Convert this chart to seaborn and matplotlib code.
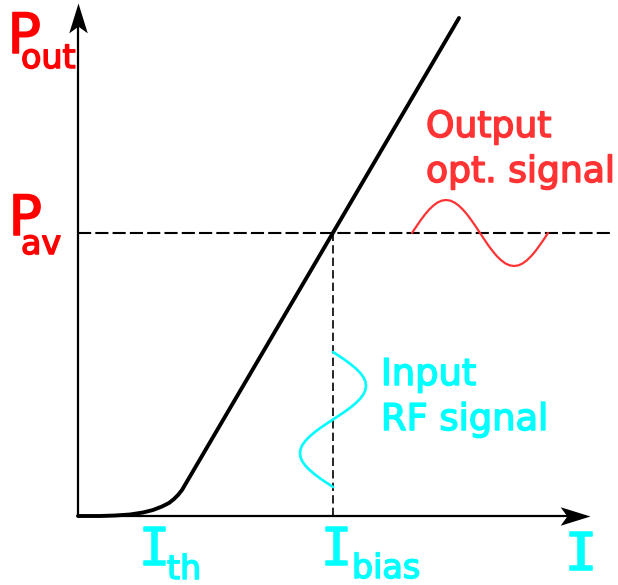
import numpy as np
import pandas as pd
import matplotlib
matplotlib.use("Agg")
import matplotlib.pyplot as plt
import matplotlib.patheffects as pe
from matplotlib.path import Path
import seaborn as sns

# ---- data (diagram units: current I to the right, optical power P upward) ----
pi_current = [0, 22, 37, 52, 65, 75, 84, 91, 96, 100, 104, 381]
pi_power = [0, 0, 0.5, 1.5, 3.5, 6, 9.5, 13, 17, 21, 26, 498]

i_bias = 255
p_av = 283
i_max = 512
p_max = 513
dash_end = 534

rf_current = [255, 261.4, 267.6, 273.3, 278.3, 282.4, 285.5, 287.4, 288, 287.4, 285.5, 282.4,
              278.3, 273.3, 267.6, 261.4, 255, 248.6, 242.4, 236.7, 231.7, 227.6, 224.5, 222.6,
              222, 222.6, 224.5, 227.6, 231.7, 236.7, 242.4, 248.6, 255]
rf_power = [164, 159.8, 155.6, 151.3, 147.1, 142.9, 138.7, 134.5, 130.3, 126, 121.8, 117.6,
            113.4, 109.1, 104.9, 100.7, 96.5, 92.3, 88.1, 83.8, 79.6, 75.4, 71.2, 67, 62.8,
            58.5, 54.3, 50.1, 45.9, 41.7, 37.4, 33.2, 29]

opt_current = [334, 338.3, 342.5, 346.8, 351, 355.3, 359.5, 363.8, 368, 372.3, 376.5, 380.8,
               385, 389.3, 393.5, 397.8, 402, 406.3, 410.5, 414.8, 419, 423.3, 427.5, 431.8,
               436, 440.3, 444.5, 448.8, 453, 457.3, 461.5, 465.8, 470]
opt_power = [283, 289.4, 295.6, 301.3, 306.3, 310.4, 313.5, 315.4, 316, 315.4, 313.5, 310.4,
             306.3, 301.3, 295.6, 289.4, 283, 276.6, 270.4, 264.7, 259.7, 255.6, 252.5, 250.6,
             250, 250.6, 252.5, 255.6, 259.7, 264.7, 270.4, 276.6, 283]

RED = "#ff0000"
RED2 = "#ff3333"
CYAN = "#00ffff"

sns.set_style("white")
plt.rcParams["font.family"] = ["DejaVu Sans"]

fig = plt.figure(figsize=(6.18, 5.85), dpi=100)
ax = fig.add_axes([0, 0, 1, 1])
ax.set_xlim(-78, 540)
ax.set_ylim(-69, 516)
ax.axis("off")

# axes
sns.lineplot(x=[0, 0], y=[0, p_max - 20], ax=ax, color="black", lw=1.6, sort=False, estimator=None)
sns.lineplot(x=[0, i_max - 20], y=[0, 0], ax=ax, color="black", lw=1.6, sort=False, estimator=None)
up = Path([(0, 0), (0.62, -2), (0, -1.55), (-0.62, -2), (0, 0)],
          [Path.MOVETO, Path.LINETO, Path.LINETO, Path.LINETO, Path.CLOSEPOLY])
right = Path([(0, 0), (-2, 0.62), (-1.55, 0), (-2, -0.62), (0, 0)],
             [Path.MOVETO, Path.LINETO, Path.LINETO, Path.LINETO, Path.CLOSEPOLY])
ax.plot([0], [p_max], marker=up, markersize=43, color="black", mew=0)
ax.plot([i_max], [0], marker=right, markersize=43, color="black", mew=0)

# dashed guides
ax.plot([0, dash_end], [p_av, p_av], color="black", lw=1.5, dashes=(6.3, 2.0))
ax.plot([i_bias, i_bias], [0, p_av], color="black", lw=1.2, dashes=(5.0, 2.5))

# P-I curve
df = pd.DataFrame({"I": pi_current, "P": pi_power})
sns.lineplot(data=df, x="I", y="P", ax=ax, color="black", lw=2.8, sort=False,
             estimator=None)
for ln in ax.lines[-1:]:
    ln.set_solid_joinstyle("round")
    ln.set_solid_capstyle("round")

# signals
sns.lineplot(x=rf_current, y=rf_power, ax=ax, color=CYAN, lw=1.9, sort=False, estimator=None)
sns.lineplot(x=opt_current, y=opt_power, ax=ax, color=RED2, lw=1.6, sort=False, estimator=None)
for ln in ax.lines[-2:]:
    ln.set_solid_joinstyle("round")


def label(x, y, s, color, size, family=None):
    kw = dict(color=color, fontsize=size, va="baseline", ha="left",
              path_effects=[pe.withStroke(linewidth=1.1, foreground=color)])
    if family:
        kw["family"] = family
        kw["ha"] = "center"
    ax.text(x, y, s, **kw)


label(-70.5, 463, "P", RED, 40)
label(-57, 448, "out", RED, 24)
label(-69.5, 281, "P", RED, 40)
label(-57, 262, "av", RED, 24)

mono = ["DejaVu Sans Mono"]
label(76.5, -49, "I", CYAN, 38, mono)
label(89, -63, "th", CYAN, 24)
label(258.5, -49, "I", CYAN, 38, mono)
label(274, -62, "bias", CYAN, 24)
label(503, -54, "I", CYAN, 38, mono)

label(303, 131, "Input", CYAN, 26.5)
label(303, 86, "RF signal", CYAN, 26.5)
label(348, 379, "Output", RED2, 26)
label(348, 334, "opt. signal", RED2, 26)

fig.savefig("out.png", dpi=100)
